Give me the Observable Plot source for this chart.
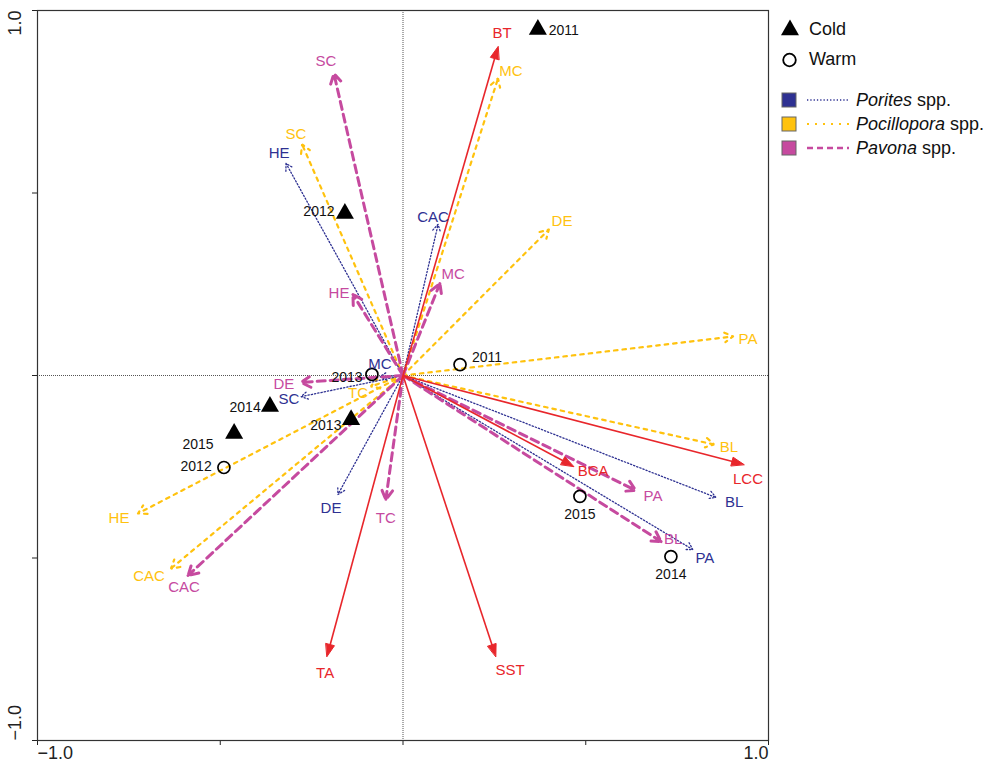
<!DOCTYPE html>
<html><head><meta charset="utf-8">
<script src="https://cdn.jsdelivr.net/npm/d3@7"></script>
<script src="https://cdn.jsdelivr.net/npm/@observablehq/plot@0.6"></script>
<style>
body{margin:0;background:#fff;font-family:"Liberation Sans",Arial,Helvetica,sans-serif;}
#wrap{position:relative;width:988px;height:769px;}
#chart{position:absolute;left:0;top:0;}
#legend{position:absolute;left:770px;top:0;}
</style></head><body>
<div id="wrap"><div id="chart"></div><div id="legend"></div></div>
<script>
// ---- Environmental variables (red, solid) ----
const envNames  = ["BT","LCC","BCA","TA","SST"];
const envX      = [0.260, 0.933, 0.467, -0.208, 0.254];
const envY      = [0.901, -0.244, -0.249, -0.770, -0.770];
const envLabelX = [0.271, 0.944, 0.520, -0.213, 0.293];
const envLabelY = [0.937, -0.285, -0.263, -0.816, -0.808];

// ---- Porites spp. (navy, dotted) ----
const poritesNames  = ["HE","CAC","MC","SC","DE","BL","PA"];
const poritesX      = [-0.320, 0.096, -0.063, -0.279, -0.178, 0.856, 0.793];
const poritesY      = [0.581, 0.414, -0.003, -0.058, -0.326, -0.334, -0.477];
const poritesLabelX = [-0.339, 0.082, -0.063, -0.312, -0.197, 0.906, 0.826];
const poritesLabelY = [0.608, 0.433, 0.030, -0.066, -0.364, -0.348, -0.501];

// ---- Pocillopora spp. (gold, dotted) ----
const pocilloporaNames  = ["SC","MC","DE","PA","BL","TC","HE","CAC"];
const pocilloporaX      = [-0.276, 0.260, 0.399, 0.903, 0.851, -0.088, -0.725, -0.635];
const pocilloporaY      = [0.633, 0.814, 0.400, 0.107, -0.189, -0.030, -0.378, -0.529];
const pocilloporaLabelX = [-0.293, 0.295, 0.435, 0.944, 0.892, -0.123, -0.777, -0.695];
const pocilloporaLabelY = [0.660, 0.833, 0.422, 0.099, -0.197, -0.049, -0.392, -0.551];

// ---- Pavona spp. (magenta, dashed) ----
const pavonaNames  = ["SC","HE","MC","DE","TC","CAC","PA","BL"];
const pavonaX      = [-0.189, -0.137, 0.101, -0.279, -0.047, -0.588, 0.637, 0.706];
const pavonaY      = [0.827, 0.222, 0.252, -0.019, -0.340, -0.548, -0.315, -0.455];
const pavonaLabelX = [-0.211, -0.175, 0.137, -0.326, -0.047, -0.599, 0.684, 0.739];
const pavonaLabelY = [0.860, 0.225, 0.277, -0.025, -0.392, -0.581, -0.332, -0.449];

// ---- Sites: Cold (triangles) and Warm (circles) ----
const coldYears  = ["2011","2012","2013","2014","2015"];
const coldX      = [0.369, -0.159, -0.142, -0.364, -0.462];
const coldY      = [0.948, 0.444, -0.121, -0.085, -0.159];
const coldLabelX = [0.440, -0.230, -0.211, -0.432, -0.561];
const coldLabelY = [0.945, 0.449, -0.137, -0.088, -0.189];

const warmYears  = ["2011","2012","2013","2014","2015"];
const warmX      = [0.156, -0.490, -0.085, 0.733, 0.484];
const warmY      = [0.030, -0.252, 0.003, -0.496, -0.331];
const warmLabelX = [0.230, -0.566, -0.153, 0.733, 0.484];
const warmLabelY = [0.049, -0.249, -0.005, -0.545, -0.381];

// axis ticks
const axisTicks = [-1, -0.5, 0, 0.5, 1];
const axisLabelTicks = [-1, 1];

const RED = "#E8262B", NAVY = "#2E3192", GOLD = "#FFC20E", PINK = "#C64A9F";

const table = (names, xs, ys, lx, ly) => names.map((n, i) => ({name: n, x: xs[i], y: ys[i], lx: lx[i], ly: ly[i]}));
const env = table(envNames, envX, envY, envLabelX, envLabelY);
const porites = table(poritesNames, poritesX, poritesY, poritesLabelX, poritesLabelY);
const pocillopora = table(pocilloporaNames, pocilloporaX, pocilloporaY, pocilloporaLabelX, pocilloporaLabelY);
const pavona = table(pavonaNames, pavonaX, pavonaY, pavonaLabelX, pavonaLabelY);
const cold = table(coldYears, coldX, coldY, coldLabelX, coldLabelY);
const warm = table(warmYears, warmX, warmY, warmLabelX, warmLabelY);

// filled heads for the environmental arrows (derived from the data tips)
const HL = 0.034, HW = 0.012;
const envHeads = env.flatMap(d => {
  const len = Math.hypot(d.x, d.y), ux = d.x / len, uy = d.y / len;
  const bx = d.x - HL * ux, by = d.y - HL * uy;
  return [
    {k: d.name, x: d.x, y: d.y},
    {k: d.name, x: bx - HW * uy, y: by + HW * ux},
    {k: d.name, x: bx + HW * uy, y: by - HW * ux}
  ];
});
const envShaft = env.map(d => {
  const len = Math.hypot(d.x, d.y);
  return {x: d.x - (HL * 0.8) * d.x / len, y: d.y - (HL * 0.8) * d.y / len};
});

const fmt = v => (v < 0 ? "\u2212" : "") + Math.abs(v).toFixed(1);
const FONT = "Liberation Sans, Arial, Helvetica, sans-serif";
const zero = () => 0;

const labelMark = (data, color) => Plot.text(data, {x: "lx", y: "ly", text: "name", fill: color, fontSize: 15, textAnchor: "middle", lineAnchor: "middle"});

const chart = Plot.plot({
  width: 775, height: 769,
  marginLeft: 37, marginTop: 10, marginRight: 7, marginBottom: 29,
  x: {domain: [-1, 1]},
  y: {domain: [-1, 1]},
  style: {fontFamily: FONT, background: "white", overflow: "visible"},
  marks: [
    Plot.ruleX([0], {stroke: "#555", strokeWidth: 1, strokeDasharray: "1,1"}),
    Plot.ruleY([0], {stroke: "#555", strokeWidth: 1, strokeDasharray: "1,1"}),
    Plot.axisX(axisTicks, {tickSize: 5, tickFormat: () => "", stroke: "#222", label: null}),
    Plot.axisY(axisTicks, {tickSize: 5, tickFormat: () => "", stroke: "#222", label: null}),
    Plot.text([-1], {x: d => d, text: d => fmt(d), frameAnchor: "bottom", dy: 18, textAnchor: "start", fontSize: 18, fill: "#222"}),
    Plot.text([1], {x: d => d, text: d => fmt(d), frameAnchor: "bottom", dy: 18, textAnchor: "end", fontSize: 18, fill: "#222"}),
    Plot.text([1], {y: d => d, text: d => fmt(d), frameAnchor: "left", dx: -22, rotate: -90, textAnchor: "end", fontSize: 18, fill: "#222"}),
    Plot.text([-1], {y: d => d, text: d => fmt(d), frameAnchor: "left", dx: -22, rotate: -90, textAnchor: "start", fontSize: 18, fill: "#222"}),
    Plot.frame({stroke: "#333", strokeWidth: 1.2}),
    // species arrows
    Plot.arrow(pocillopora, {x1: zero, y1: zero, x2: "x", y2: "y", stroke: GOLD, strokeWidth: 2.2, strokeDasharray: "3.5,5", headLength: 6.5, headAngle: 60}),
    Plot.arrow(porites, {x1: zero, y1: zero, x2: "x", y2: "y", stroke: NAVY, strokeWidth: 1.3, strokeDasharray: "1.3,2", headLength: 9, headAngle: 60}),
    Plot.arrow(pavona, {x1: zero, y1: zero, x2: "x", y2: "y", stroke: PINK, strokeWidth: 3, strokeDasharray: "8,5", headLength: 5.5, headAngle: 60}),
    // environmental arrows
    Plot.link(envShaft, {x1: zero, y1: zero, x2: "x", y2: "y", stroke: RED, strokeWidth: 1.6}),
    Plot.line(envHeads, {x: "x", y: "y", z: "k", fill: RED, stroke: RED, strokeWidth: 1, curve: "linear-closed"}),
    // sites
    Plot.dot(cold, {x: "x", y: "y", symbol: "triangle", fill: "black", r: 6.7}),
    Plot.dot(warm, {x: "x", y: "y", symbol: "circle", fill: "none", stroke: "black", strokeWidth: 1.7, r: 6}),
    // labels
    labelMark(pocillopora, GOLD),
    labelMark(porites, NAVY),
    labelMark(pavona, PINK),
    labelMark(env, RED),
    Plot.text(cold, {x: "lx", y: "ly", text: "name", fill: "#111", fontSize: 14}),
    Plot.text(warm, {x: "lx", y: "ly", text: "name", fill: "#111", fontSize: 14})
  ]
});
document.getElementById("chart").appendChild(chart);

// ---- Legend ----
const legendSites = [{label: "Cold", kind: "cold"}, {label: "Warm", kind: "warm"}];
const legendGroups = [
  {genus: "Porites", color: NAVY, width: 1.3, dash: "1.3,2"},
  {genus: "Pocillopora", color: GOLD, width: 2.2, dash: "2,6"},
  {genus: "Pavona", color: PINK, width: 2.6, dash: "6,4"}
];
const lg = d3.select("#legend").append("svg").attr("width", 218).attr("height", 170)
  .style("font-family", FONT);
legendSites.forEach((s, i) => {
  const cy = 29 + i * 30;
  if (s.kind === "cold") {
    lg.append("path").attr("transform", `translate(20,${cy + 1})`)
      .attr("d", d3.symbol(d3.symbolTriangle, 140)()).attr("fill", "black");
  } else {
    lg.append("circle").attr("cx", 19.5).attr("cy", cy + 1).attr("r", 6.3)
      .attr("fill", "none").attr("stroke", "black").attr("stroke-width", 1.8);
  }
  lg.append("text").attr("x", 39).attr("y", cy).attr("dy", "0.35em")
    .attr("font-size", 18).attr("fill", "#111").text(s.label);
});
legendGroups.forEach((g, i) => {
  const cy = 100 + i * 24;
  lg.append("rect").attr("x", 12).attr("y", cy - 7).attr("width", 14).attr("height", 14)
    .attr("fill", g.color).attr("stroke", "#666").attr("stroke-width", 1);
  lg.append("line").attr("x1", 37).attr("x2", 79).attr("y1", cy).attr("y2", cy)
    .attr("stroke", g.color).attr("stroke-width", g.width).attr("stroke-dasharray", g.dash);
  const t = lg.append("text").attr("x", 86).attr("y", cy).attr("dy", "0.35em")
    .attr("font-size", 18).attr("fill", "#111");
  t.append("tspan").attr("font-style", "italic").text(g.genus);
  t.append("tspan").text(" spp.");
});
</script>
</body></html>
